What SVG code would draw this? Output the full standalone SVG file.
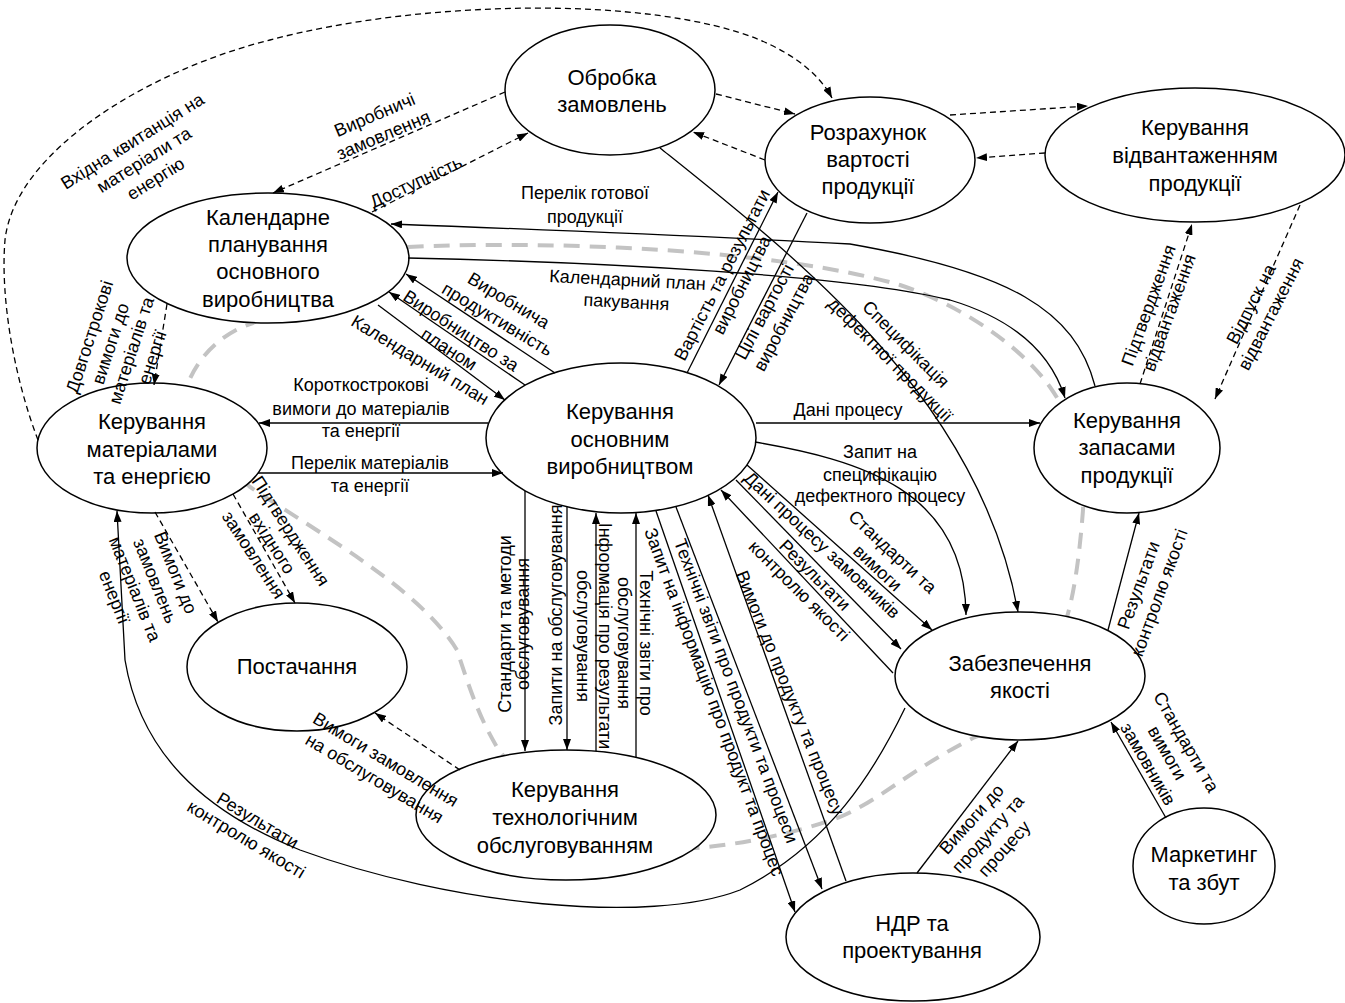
<svg xmlns="http://www.w3.org/2000/svg" width="1345" height="1003" viewBox="0 0 1345 1003">
<defs>
<style>
.n ellipse{fill:#fff;stroke:#000;stroke-width:1.5}
.n text{font-family:"Liberation Sans",Arial,sans-serif;font-size:22px;text-anchor:middle;fill:#000}
.c path{fill:none;stroke:#000;stroke-width:1.3}
.c .d{stroke-dasharray:6 4}
.c .a{marker-end:url(#ar)}
.g{fill:none;stroke:#c3c3c3;stroke-width:4;stroke-dasharray:16 10}
.lb text{font-family:"Liberation Sans",Arial,sans-serif;font-size:18px;text-anchor:middle;fill:#000}
</style>
<marker id="ar" viewBox="0 0 11 8" refX="11" refY="4" markerWidth="11" markerHeight="8" markerUnits="userSpaceOnUse" orient="auto"><path d="M0,0 L11,4 L0,8 z" fill="#000"/></marker>
</defs>
<rect width="1345" height="1003" fill="#fff"/>
<path class="g" d="M 250 487 C 220 460 190 420 187 386 C 200 350 230 330 253 323 C 300 290 350 255 408 247 C 560 240 780 250 900 285 C 960 305 1020 345 1050 387 C 1080 430 1085 470 1083 510 C 1080 550 1075 590 1067 617 C 1060 680 1020 720 973 738 C 910 770 880 800 840 817 C 800 832 740 845 695 848 C 640 850 540 800 500 752 C 480 720 470 690 457 650 C 420 590 330 540 250 487 Z"/>
<g id="n-obrobka" class="n"><ellipse cx="610" cy="90" rx="105" ry="65"/><text x="612" y="85">Обробка</text><text x="612" y="112">замовлень</text></g>
<g id="n-rozrahunok" class="n"><ellipse cx="870" cy="160" rx="105" ry="63"/><text x="868" y="140">Розрахунок</text><text x="868" y="167">вартості</text><text x="868" y="194">продукції</text></g>
<g id="n-vidvantazhennya" class="n"><ellipse cx="1195" cy="155" rx="150" ry="67"/><text x="1195" y="135">Керування</text><text x="1195" y="163">відвантаженням</text><text x="1195" y="191">продукції</text></g>
<g id="n-kalendarne" class="n"><ellipse cx="268" cy="258" rx="141" ry="65"/><text x="268" y="225">Календарне</text><text x="268" y="252">планування</text><text x="268" y="279">основного</text><text x="268" y="307">виробництва</text></g>
<g id="n-materialy" class="n"><ellipse cx="152" cy="448" rx="115" ry="65"/><text x="152" y="429">Керування</text><text x="152" y="457">матеріалами</text><text x="152" y="484">та енергією</text></g>
<g id="n-osnovne" class="n"><ellipse cx="621" cy="438" rx="135" ry="75"/><text x="620" y="419">Керування</text><text x="620" y="447">основним</text><text x="620" y="474">виробництвом</text></g>
<g id="n-zapasy" class="n"><ellipse cx="1127" cy="448" rx="93" ry="65"/><text x="1127" y="428">Керування</text><text x="1127" y="455">запасами</text><text x="1127" y="483">продукції</text></g>
<g id="n-postachannya" class="n"><ellipse cx="297" cy="667" rx="110" ry="64"/><text x="297" y="674">Постачання</text></g>
<g id="n-yakist" class="n"><ellipse cx="1020" cy="676" rx="125" ry="64"/><text x="1020" y="671">Забезпечення</text><text x="1020" y="698">якості</text></g>
<g id="n-tehobsl" class="n"><ellipse cx="566" cy="815" rx="150" ry="65"/><text x="565" y="797">Керування</text><text x="565" y="825">технологічним</text><text x="565" y="853">обслуговуванням</text></g>
<g id="n-ndr" class="n"><ellipse cx="913" cy="937" rx="127" ry="64"/><text x="912" y="931">НДР та</text><text x="912" y="958">проектування</text></g>
<g id="n-marketing" class="n"><ellipse cx="1204" cy="866" rx="71" ry="58"/><text x="1204" y="862">Маркетинг</text><text x="1204" y="890">та збут</text></g>
<g id="connectors" class="c">
<path class="d a" d="M 38 440 C 15 380 0 300 5 240 C 15 150 150 70 270 40 C 420 0 650 -5 760 40 C 795 55 820 75 832 98"/>
<path class="d a" d="M 505 92 L 273 193"/>
<path class="d a" d="M 372 212 L 528 133"/>
<path class="d a" d="M 716 94 L 795 114"/>
<path class="d a" d="M 765 160 L 693 132"/>
<path class="d a" d="M 950 115 L 1088 106"/>
<path class="d a" d="M 1045 153 L 976 158"/>
<path class="d a" d="M 1140 384 L 1192 224"/>
<path class="d a" d="M 1300 205 L 1215 399"/>
<path class="d a" d="M 167 304 L 154 385"/>
<path class="d a" d="M 155 512 L 218 622"/>
<path class="d a" d="M 233 494 L 295 603"/>
<path class="d a" d="M 460 770 L 375 713"/>
<path class="a" d="M 555 373 L 406 274"/>
<path class="a" d="M 525 385 L 389 292"/>
<path class="a" d="M 378 305 L 505 400"/>
<path class="a" d="M 1095 386 C 1075 310 1010 272 850 244 C 700 236 500 228 391 224"/>
<path class="a" d="M 408 258 C 600 262 850 275 950 300 C 1010 318 1050 350 1065 398"/>
<path class="a" d="M 488 423 L 259 423"/>
<path class="a" d="M 258 473 L 503 473"/>
<path class="a" d="M 756 423 L 1040 423"/>
<path class="a" d="M 755 442 C 860 460 965 490 966 615"/>
<path class="a" d="M 660 148 C 800 260 980 400 1018 612"/>
<path class="a" d="M 687 373 L 778 192"/>
<path class="a" d="M 807 213 L 719 385"/>
<path class="a" d="M 525 491 L 525 751"/>
<path class="a" d="M 567 507 L 567 750"/>
<path class="a" d="M 596 751 L 596 513"/>
<path class="a" d="M 636 758 L 636 513"/>
<path class="a" d="M 656 511 L 795 912"/>
<path class="a" d="M 676 507 L 822 889"/>
<path class="a" d="M 846 881 L 708 495"/>
<path class="a" d="M 893 673 L 721 490"/>
<path class="a" d="M 736 480 L 901 649"/>
<path class="a" d="M 747 465 L 932 630"/>
<path class="a" d="M 905 708 C 875 770 830 845 740 890 C 650 925 450 905 300 850 C 200 810 140 750 125 660 L 117 511"/>
<path class="a" d="M 917 873 L 1018 741"/>
<path class="a" d="M 1108 630 L 1139 513"/>
<path class="a" d="M 1166 818 L 1111 722"/>
</g>
<g id="labels" class="lb">
<text transform="translate(144,160) rotate(-32)"><tspan x="0" y="-16">Вхідна квитанція на</tspan><tspan x="0" y="6">матеріали та</tspan><tspan x="0" y="28">енергію</tspan></text>
<text transform="translate(379,125) rotate(-23)"><tspan x="0" y="-5">Виробничі</tspan><tspan x="0" y="17">замовлення</tspan></text>
<text transform="translate(416,182) rotate(-25)"><tspan x="0" y="6">Доступність</tspan></text>
<text><tspan x="585" y="199">Перелік готової</tspan><tspan x="585" y="223">продукції</tspan></text>
<text transform="translate(627,291) rotate(3)"><tspan x="0" y="-5">Календарний план</tspan><tspan x="0" y="17">пакування</tspan></text>
<text transform="translate(503,310) rotate(31)"><tspan x="0" y="-5">Виробнича</tspan><tspan x="0" y="17">продуктивність</tspan></text>
<text transform="translate(455,340) rotate(33)"><tspan x="0" y="-5">Виробництво за</tspan><tspan x="0" y="17">планом</tspan></text>
<text transform="translate(420,360) rotate(31)"><tspan x="0" y="6">Календарний план</tspan></text>
<text><tspan x="361" y="391">Короткострокові</tspan><tspan x="361" y="415">вимоги до матеріалів</tspan><tspan x="361" y="437">та енергії</tspan></text>
<text><tspan x="370" y="469">Перелік матеріалів</tspan><tspan x="370" y="492">та енергії</tspan></text>
<text><tspan x="848" y="416">Дані процесу</tspan></text>
<text><tspan x="880" y="458">Запит на</tspan><tspan x="880" y="481">специфікацію</tspan><tspan x="880" y="502">дефектного процесу</tspan></text>
<text transform="translate(898,352) rotate(45)"><tspan x="0" y="-5">Специфікація</tspan><tspan x="0" y="17">дефектної продукції</tspan></text>
<text transform="translate(732,280) rotate(-63)"><tspan x="0" y="-5">Вартість та результати</tspan><tspan x="0" y="17">виробництва</tspan></text>
<text transform="translate(774,317) rotate(-62)"><tspan x="0" y="-5">Цілі вартості</tspan><tspan x="0" y="17">виробництва</tspan></text>
<text transform="translate(1159,309) rotate(-70)"><tspan x="0" y="-5">Підтвердження</tspan><tspan x="0" y="17">відвантаження</tspan></text>
<text transform="translate(1261,309) rotate(-63)"><tspan x="0" y="-5">Відпуск на</tspan><tspan x="0" y="17">відвантаження</tspan></text>
<text transform="translate(121,347) rotate(-72)"><tspan x="0" y="-27">Довгострокові</tspan><tspan x="0" y="-5">вимоги до</tspan><tspan x="0" y="17">матеріалів та</tspan><tspan x="0" y="39">енергії</tspan></text>
<text transform="translate(145,585) rotate(68)"><tspan x="0" y="-27">Вимоги до</tspan><tspan x="0" y="-5">замовлень</tspan><tspan x="0" y="17">матеріалів та</tspan><tspan x="0" y="39">енергії</tspan></text>
<text transform="translate(272,543) rotate(57)"><tspan x="0" y="-16">Підтвердження</tspan><tspan x="0" y="6">вхідного</tspan><tspan x="0" y="28">замовлення</tspan></text>
<text transform="translate(380,769) rotate(31)"><tspan x="0" y="-5">Вимоги замовлення</tspan><tspan x="0" y="17">на обслуговування</tspan></text>
<text transform="translate(252,830) rotate(31)"><tspan x="0" y="-5">Результати</tspan><tspan x="0" y="17">контролю якості</tspan></text>
<text transform="translate(514,624) rotate(-90)"><tspan x="0" y="-3">Стандарти та методи</tspan><tspan x="0" y="15">обслуговування</tspan></text>
<text transform="translate(556,615) rotate(-90)"><tspan x="0" y="6">Запити на обслуговування</tspan></text>
<text transform="translate(594,636) rotate(90)"><tspan x="0" y="-5">Інформація про результати</tspan><tspan x="0" y="17">обслуговування</tspan></text>
<text transform="translate(635,643) rotate(90)"><tspan x="0" y="-5">Технічні звіти про</tspan><tspan x="0" y="17">обслуговування</tspan></text>
<text transform="translate(714,702) rotate(69.6)"><tspan x="0" y="6">Запит на інформацію про продукт та процес</tspan></text>
<text transform="translate(736,691) rotate(69.5)"><tspan x="0" y="6">Технічні звіти про продукти та процеси</tspan></text>
<text transform="translate(790,693) rotate(68)"><tspan x="0" y="6">Вимоги до продукту та процесу</tspan></text>
<text transform="translate(822,545) rotate(43)"><tspan x="0" y="6">Дані процесу замовників</tspan></text>
<text transform="translate(807,583) rotate(45)"><tspan x="0" y="-5">Результати</tspan><tspan x="0" y="17">контролю якості</tspan></text>
<text transform="translate(885,560) rotate(43)"><tspan x="0" y="-5">Стандарти та</tspan><tspan x="0" y="17">вимоги</tspan></text>
<text transform="translate(988,834) rotate(-48)"><tspan x="0" y="-16">Вимоги до</tspan><tspan x="0" y="6">продукту та</tspan><tspan x="0" y="28">процесу</tspan></text>
<text transform="translate(1149,589) rotate(-70)"><tspan x="0" y="-5">Результати</tspan><tspan x="0" y="17">контролю якості</tspan></text>
<text transform="translate(1167,753) rotate(60)"><tspan x="0" y="-16">Стандарти та</tspan><tspan x="0" y="6">вимоги</tspan><tspan x="0" y="28">замовників</tspan></text>
</g>
</svg>
